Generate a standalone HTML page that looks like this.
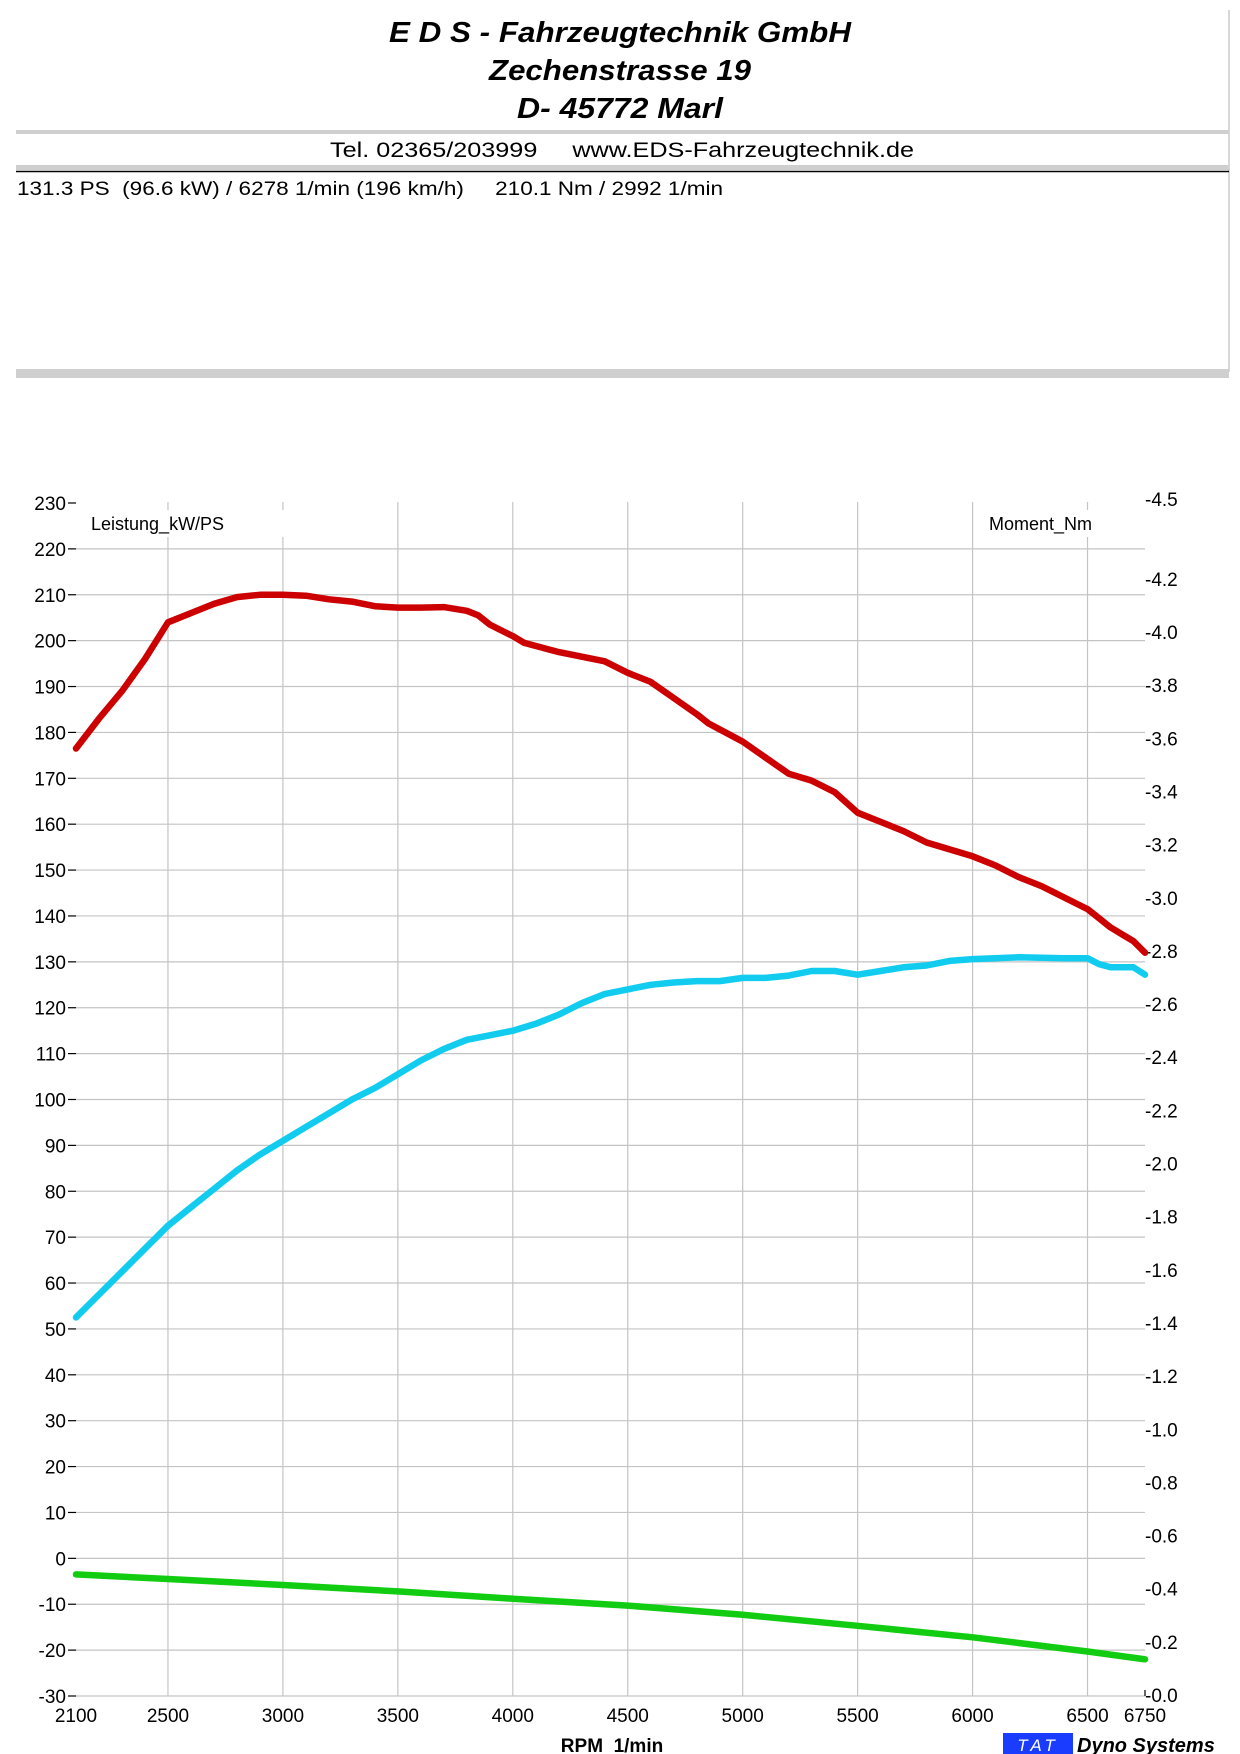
<!DOCTYPE html>
<html><head><meta charset="utf-8"><style>
body{margin:0;background:#fff;}
svg{display:block;font-family:"Liberation Sans",sans-serif;}
.pre{white-space:pre;}
</style></head><body>
<svg id="s" width="1240" height="1754" xmlns="http://www.w3.org/2000/svg">
<rect width="1240" height="1754" fill="#fff"/>
<line x1="1229" y1="10" x2="1229" y2="372" stroke="#ccc" stroke-width="1.5"/>
<text x="620" y="42" font-size="29" font-weight="bold" font-style="italic" text-anchor="middle" textLength="462" lengthAdjust="spacingAndGlyphs">E D S - Fahrzeugtechnik GmbH</text>
<text x="620" y="80" font-size="29" font-weight="bold" font-style="italic" text-anchor="middle" textLength="262" lengthAdjust="spacingAndGlyphs">Zechenstrasse 19</text>
<text x="620" y="118" font-size="29" font-weight="bold" font-style="italic" text-anchor="middle" textLength="206" lengthAdjust="spacingAndGlyphs">D- 45772 Marl</text>
<rect x="16" y="130" width="1213" height="4" fill="#cfcfcf"/>
<text class="pre" x="330" y="157" font-size="21" textLength="584" lengthAdjust="spacingAndGlyphs">Tel. 02365/203999     www.EDS-Fahrzeugtechnik.de</text>
<rect x="16" y="165" width="1213" height="5" fill="#cfcfcf"/>
<line x1="16" y1="171.5" x2="1229" y2="171.5" stroke="#000" stroke-width="1.5"/>
<text class="pre" x="17" y="195" font-size="19" textLength="706" lengthAdjust="spacingAndGlyphs">131.3 PS  (96.6 kW) / 6278 1/min (196 km/h)     210.1 Nm / 2992 1/min</text>
<rect x="16" y="369" width="1213" height="9" fill="#cfcfcf"/>
<g id="grid" stroke="#c4c4c4" stroke-width="1.2"></g>
<rect x="86" y="510" width="205" height="27" fill="#fff"/>
<rect x="978" y="510" width="112" height="27" fill="#fff"/>
<text x="91" y="530" font-size="18">Leistung_kW/PS</text>
<text x="989" y="530" font-size="18">Moment_Nm</text>
<g id="labels" font-size="19"></g>
<g id="curves" fill="none" stroke-width="6.5" stroke-linejoin="round" stroke-linecap="round"></g>
<text class="pre" x="612" y="1752" font-size="19" font-weight="bold" text-anchor="middle">RPM  1/min</text>
<rect x="1003" y="1733" width="70" height="21" fill="#1a3cff"/>
<text x="1038" y="1751" font-size="17" font-style="italic" fill="#fff" text-anchor="middle" letter-spacing="4">TAT</text>
<text x="1077" y="1752" font-size="20" font-weight="bold" font-style="italic">Dyno Systems</text>
</svg>
<script>
var NS="http://www.w3.org/2000/svg";
function X(r){return 76+(r-2100)*0.22989;}
function Y(v){return 1696-(v+30)*4.5885;}
function el(p,t,a,txt){var e=document.createElementNS(NS,t);for(var k in a)e.setAttribute(k,a[k]);if(txt!=null)e.textContent=txt;document.getElementById(p).appendChild(e);return e;}
for(var v=-30;v<=230;v+=10){var y=Y(v);
 if(v<230)el("grid","line",{x1:76,y1:y,x2:1145,y2:y});
 el("grid","line",{x1:68,y1:y,x2:76,y2:y,stroke:"#000"});
 el("labels","text",{x:66,y:y+7,"text-anchor":"end"},v);}
var rp=[2100,2500,3000,3500,4000,4500,5000,5500,6000,6500,6750];
rp.forEach(function(r){var x=X(r);
 if(r>2100&&r<6750)el("grid","line",{x1:x,y1:502,x2:x,y2:1696});
 el("labels","text",{x:x,y:1722,"text-anchor":"middle"},r);});
el("grid","line",{x1:1145,y1:1690,x2:1145,y2:1696,stroke:"#000"});
var rl=["-4.5","-4.2","-4.0","-3.8","-3.6","-3.4","-3.2","-3.0","-2.8","-2.6","-2.4","-2.2","-2.0","-1.8","-1.6","-1.4","-1.2","-1.0","-0.8","-0.6","-0.4","-0.2","-0.0"];
rl.forEach(function(s){var v=-parseFloat(s);var y=1696-v*265.75;el("labels","text",{x:1145,y:y+6},s);});
var red=[[2100,176.5],[2200,183],[2300,189],[2400,196],[2500,204],[2600,206],[2700,208],[2800,209.5],[2900,210],[3000,210],[3100,209.8],[3200,209],[3300,208.5],[3400,207.5],[3500,207.2],[3600,207.2],[3700,207.3],[3800,206.5],[3850,205.5],[3900,203.5],[4000,201],[4050,199.5],[4200,197.5],[4300,196.5],[4400,195.5],[4500,193],[4600,191],[4700,187.5],[4800,184],[4850,182],[5000,178],[5100,174.5],[5200,171],[5300,169.5],[5400,167],[5500,162.5],[5600,160.5],[5700,158.5],[5800,156],[5900,154.5],[6000,153],[6100,151],[6200,148.5],[6300,146.5],[6400,144],[6500,141.5],[6550,139.5],[6600,137.5],[6650,136],[6700,134.5],[6750,132]];
var blue=[[2100,52.5],[2200,57.5],[2300,62.5],[2400,67.5],[2500,72.5],[2600,76.5],[2700,80.5],[2800,84.5],[2900,88],[3000,91],[3100,94],[3200,97],[3300,100],[3400,102.5],[3500,105.5],[3600,108.5],[3700,111],[3800,113],[3900,114],[4000,115],[4100,116.5],[4200,118.5],[4300,121],[4400,123],[4500,124],[4600,125],[4700,125.5],[4800,125.8],[4900,125.8],[5000,126.5],[5100,126.5],[5200,127],[5300,128],[5400,128],[5500,127.2],[5600,128],[5700,128.8],[5800,129.2],[5900,130.2],[6000,130.6],[6200,131],[6400,130.8],[6500,130.8],[6550,129.5],[6600,128.8],[6700,128.8],[6750,127.2]];
var green=[[2100,-3.5],[2500,-4.5],[3000,-5.8],[3500,-7.2],[4000,-8.8],[4500,-10.3],[5000,-12.3],[5500,-14.7],[6000,-17.2],[6500,-20.3],[6750,-22]];
function pl(d,c){el("curves","polyline",{stroke:c,points:d.map(function(p){return X(p[0]).toFixed(1)+","+Y(p[1]).toFixed(1);}).join(" ")});}
pl(green,"#11cc11");pl(blue,"#11ccee");pl(red,"#cc0000");
</script>
</body></html>
